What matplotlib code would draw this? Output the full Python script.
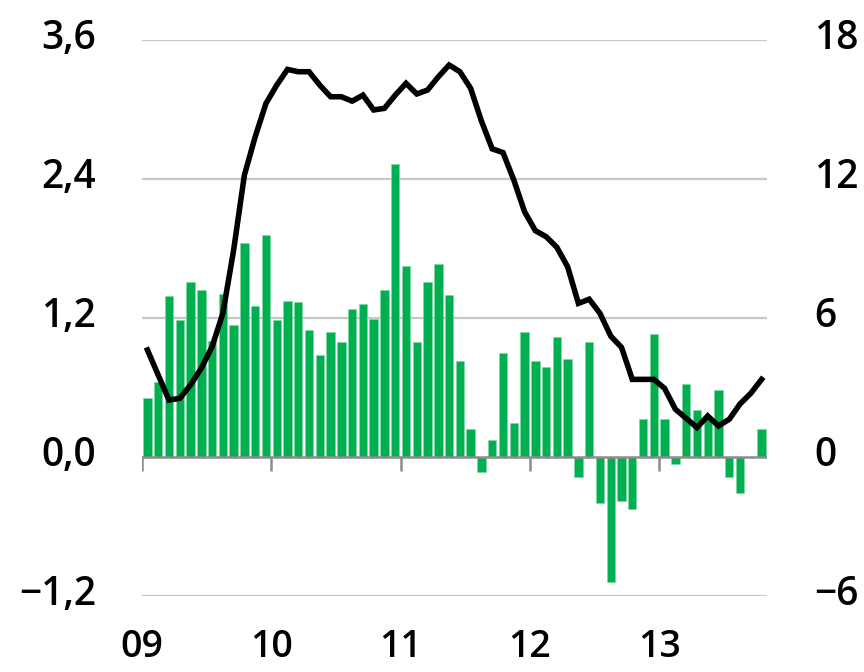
import numpy as np
import matplotlib
matplotlib.use("Agg")
import matplotlib.pyplot as plt
import matplotlib.transforms as mtransforms

plt.rcParams['font.family'] = ['Open Sans', 'DejaVu Sans']
plt.rcParams['font.weight'] = 'semibold'

# monthly bars (left axis), Jan 2009 .. Oct 2013
bar_vals = [0.51, 0.65, 1.39, 1.18, 1.51, 1.44, 1.00, 1.41, 1.14, 1.85,
            1.30, 1.92, 1.18, 1.35, 1.34, 1.10, 0.88, 1.08, 0.99, 1.28,
            1.32, 1.19, 1.44, 2.53, 1.65, 0.99, 1.51, 1.67, 1.40, 0.83,
            0.24, -0.13, 0.15, 0.90, 0.29, 1.08, 0.83, 0.78, 1.04, 0.85,
            -0.17, 0.99, -0.40, -1.08, -0.38, -0.45, 0.33, 1.06, 0.33, -0.06,
            0.63, 0.41, 0.33, 0.58, -0.17, -0.31, 0.0, 0.24]

# rolling line (right axis)
line_vals = [4.62, 3.54, 2.46, 2.53, 3.11, 3.83, 4.76, 6.2, 8.93, 12.17,
             13.82, 15.26, 16.05, 16.73, 16.63, 16.63, 16.05, 15.55, 15.55, 15.36,
             15.62, 14.98, 15.05, 15.62, 16.13, 15.67, 15.84, 16.41, 16.92, 16.63,
             15.91, 14.5, 13.3, 13.14, 11.96, 10.59, 9.77, 9.51, 9.05, 8.21,
             6.63, 6.81, 6.20, 5.22, 4.73, 3.35, 3.35, 3.35, 2.96, 2.06,
             1.67, 1.27, 1.77, 1.34, 1.63, 2.29, 2.75, 3.35]

year_labels = ['09', '10', '11', '12', '13']
left_ticks = [-1.2, 0.0, 1.2, 2.4, 3.6]
left_labels = ['\u22121,2', '0,0', '1,2', '2,4', '3,6']
right_ticks = [-6, 0, 6, 12, 18]
right_labels = ['\u22126', '0', '6', '12', '18']

n = len(bar_vals)
x = np.arange(n) + 0.5
year_pos = np.arange(len(year_labels)) * 12

fig = plt.figure(figsize=(8.64, 6.72), dpi=100)
ax = fig.add_axes([0.1644, 0.1131, 0.7233, 0.8274])
ax2 = ax.twinx()

ax.set_xlim(0, n)
ax.set_ylim(-1.2, 3.6)
ax2.set_ylim(-6, 18)

for y in [-1.2, 1.2, 2.4, 3.6]:
    ax.axhline(y, color='#c8c8c8', lw=1.6, zorder=0)

ax.bar(x, bar_vals, width=0.78, color='#00b050', edgecolor='#7fd8a4',
       linewidth=0.4, zorder=2)

ax.axhline(0, color='#8c8c8c', lw=1.8, zorder=3)
ax.vlines(year_pos, -0.12, 0, color='#8c8c8c', lw=1.8, zorder=3)

ax2.plot(x, line_vals, color='black', lw=4, solid_joinstyle='miter', zorder=4)

for a in (ax, ax2):
    for s in a.spines.values():
        s.set_visible(False)

ax.set_xticks(year_pos)
ax.set_xticklabels(year_labels)
ax.tick_params(axis='x', length=0, pad=23, labelsize=27)
ax.set_yticks(left_ticks)
ax.set_yticklabels(left_labels)
ax.tick_params(axis='y', length=0, pad=33, labelsize=28)
ax2.set_yticks(right_ticks)
ax2.set_yticklabels(right_labels)
ax2.tick_params(axis='y', length=0, pad=34, labelsize=28)

# nudge the y labels up a little
lift = mtransforms.ScaledTranslation(0, 0.06, fig.dpi_scale_trans)
for lab in ax.get_yticklabels() + ax2.get_yticklabels():
    lab.set_transform(lab.get_transform() + lift)

fig.savefig('out.png', dpi=100)
